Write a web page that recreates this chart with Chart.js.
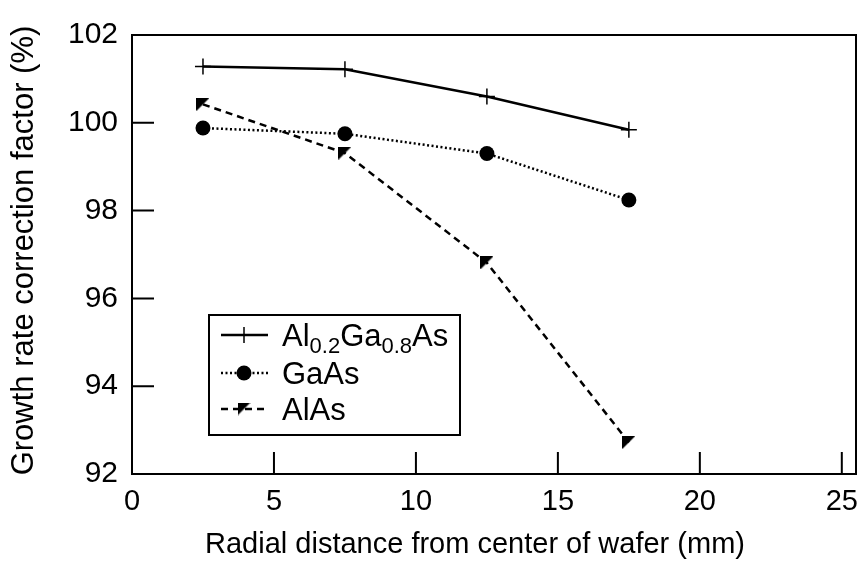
<!DOCTYPE html>
<html>
<head>
<meta charset="utf-8">
<script src="https://cdn.jsdelivr.net/npm/chart.js@4"></script>
<style>
  html, body { margin: 0; padding: 0; background: #fff; }
  #wrap { width: 858px; height: 563px; }
</style>
</head>
<body>
<div id="wrap"><canvas id="growthChart"></canvas></div>
<script>
// Data
const radialDistance = [2.5, 7.5, 12.5, 17.5];
const alGaAsValues = [101.28, 101.22, 100.6, 99.84];
const gaAsValues = [99.88, 99.75, 99.3, 98.24];
const alAsValues = [100.42, 99.31, 96.81, 92.72];
const seriesNames = ['Al0.2Ga0.8As', 'GaAs', 'AlAs'];
const xTicks = [0, 5, 10, 15, 20, 25];
const yTicks = [92, 94, 96, 98, 100, 102];
const xTitle = 'Radial distance from center of wafer (mm)';
const yTitle = 'Growth rate correction factor (%)';

const FONT = '"Liberation Sans", Arial, Helvetica, sans-serif';

function toPoints(values) {
    return radialDistance.map((x, i) => ({ x: x, y: values[i] }));
}

// right-angle triangle marker (flat top, vertical left side)
function makeTriangle(size) {
    const c = document.createElement('canvas');
    c.width = size;
    c.height = size;
    const g = c.getContext('2d');
    g.fillStyle = '#000';
    g.beginPath();
    g.moveTo(0, 0);
    g.lineTo(size, 0);
    g.lineTo(0, size);
    g.closePath();
    g.fill();
    return c;
}
const triangle = makeTriangle(13);

// frame, inward ticks, x labels, axis titles and legend
const framePlugin = {
    id: 'framePlugin',
    afterDraw(chart) {
        const ctx = chart.ctx;
        const a = chart.chartArea;
        const xs = chart.scales.x;
        const ys = chart.scales.y;
        ctx.save();
        ctx.strokeStyle = '#000';
        ctx.lineWidth = 2;
        ctx.strokeRect(a.left, a.top, a.right - a.left, a.bottom - a.top);

        // ticks pointing into the plot
        ctx.beginPath();
        xs.ticks.forEach(t => {
            const px = xs.getPixelForValue(t.value);
            ctx.moveTo(px, a.bottom);
            ctx.lineTo(px, a.bottom - 22);
        });
        ys.ticks.forEach(t => {
            const py = ys.getPixelForValue(t.value);
            ctx.moveTo(a.left, py);
            ctx.lineTo(a.left + 22, py);
        });
        ctx.stroke();

        // x tick labels
        ctx.fillStyle = '#000';
        ctx.textAlign = 'center';
        ctx.textBaseline = 'alphabetic';
        ctx.font = '29px ' + FONT;
        xs.ticks.forEach(t => {
            ctx.fillText(String(t.value), xs.getPixelForValue(t.value), a.bottom + 36);
        });

        // axis titles
        ctx.fillText(xTitle, 475, 553);
        ctx.save();
        ctx.font = '31px ' + FONT;
        ctx.translate(33, (a.top + a.bottom) / 2 - 4);
        ctx.rotate(-Math.PI / 2);
        ctx.fillText(yTitle, 0, 0);
        ctx.restore();

        // legend box
        const box = { left: 209, top: 315, right: 460, bottom: 435 };
        ctx.lineWidth = 2;
        ctx.strokeRect(box.left, box.top, box.right - box.left, box.bottom - box.top);
        const rowY = [335, 373, 409];
        chart.data.datasets.forEach((ds, i) => {
            const y = rowY[i];
            ctx.save();
            ctx.lineWidth = ds.borderWidth;
            ctx.setLineDash(ds.borderDash || []);
            ctx.beginPath();
            ctx.moveTo(221, y);
            ctx.lineTo(268, y);
            ctx.stroke();
            ctx.restore();
            ctx.save();
            ctx.fillStyle = '#000';
            ctx.strokeStyle = '#000';
            ctx.lineWidth = ds.pointBorderWidth || 1;
            Chart.helpers.drawPoint(ctx, {
                pointStyle: ds.pointStyle,
                radius: ds.pointRadius,
                borderWidth: ds.pointBorderWidth,
                rotation: 0
            }, 244, y);
            ctx.restore();

            // label with subscripted numbers
            let tx = 282;
            const base = y + 11;
            seriesNames[i].split(/(\d+(?:\.\d+)?)/).forEach((part, k) => {
                if (!part) return;
                const sub = k % 2 === 1;
                ctx.font = (sub ? '22px ' : '31px ') + FONT;
                ctx.textAlign = 'left';
                ctx.fillText(part, tx, sub ? base + 7 : base);
                tx += ctx.measureText(part).width;
            });
        });
        ctx.restore();
    }
};

const ctx = document.getElementById('growthChart').getContext('2d');
const growthChart = new Chart(ctx, {
    type: 'line',
    data: {
        datasets: [
            {
                label: seriesNames[0],
                data: toPoints(alGaAsValues),
                borderColor: '#000',
                borderWidth: 2.5,
                pointStyle: 'cross',
                pointRadius: 8,
                pointBorderWidth: 1.5,
                pointBorderColor: '#000',
                tension: 0
            },
            {
                label: seriesNames[1],
                data: toPoints(gaAsValues),
                borderColor: '#000',
                borderWidth: 2.5,
                borderDash: [2, 2.5],
                pointStyle: 'circle',
                pointRadius: 7.5,
                pointBorderWidth: 0,
                pointBackgroundColor: '#000',
                tension: 0
            },
            {
                label: seriesNames[2],
                data: toPoints(alAsValues),
                borderColor: '#000',
                borderWidth: 2.5,
                borderDash: [7, 5],
                pointStyle: triangle,
                pointRadius: 6,
                pointBorderWidth: 0,
                tension: 0
            }
        ]
    },
    options: {
        responsive: true,
        maintainAspectRatio: false,
        animation: false,
        layout: {
            autoPadding: false,
            padding: { top: 35, right: 2, left: 0, bottom: 0 }
        },
        plugins: {
            legend: { display: false },
            title: { display: false },
            tooltip: { enabled: false }
        },
        scales: {
            x: {
                type: 'linear',
                min: 0,
                max: 25.5,
                afterBuildTicks: s => { s.ticks = xTicks.map(v => ({ value: v })); },
                afterFit: s => { s.height = 89; },
                grid: { display: false, drawTicks: false },
                border: { display: false },
                ticks: { display: false }
            },
            y: {
                min: 92,
                max: 102,
                afterBuildTicks: s => { s.ticks = yTicks.map(v => ({ value: v })); },
                afterFit: s => { s.width = 132; },
                grid: { display: false, drawTicks: false },
                border: { display: false },
                ticks: {
                    color: '#000',
                    padding: 14,
                    font: { family: FONT, size: 30 }
                }
            }
        }
    },
    plugins: [framePlugin]
});
</script>
</body>
</html>
